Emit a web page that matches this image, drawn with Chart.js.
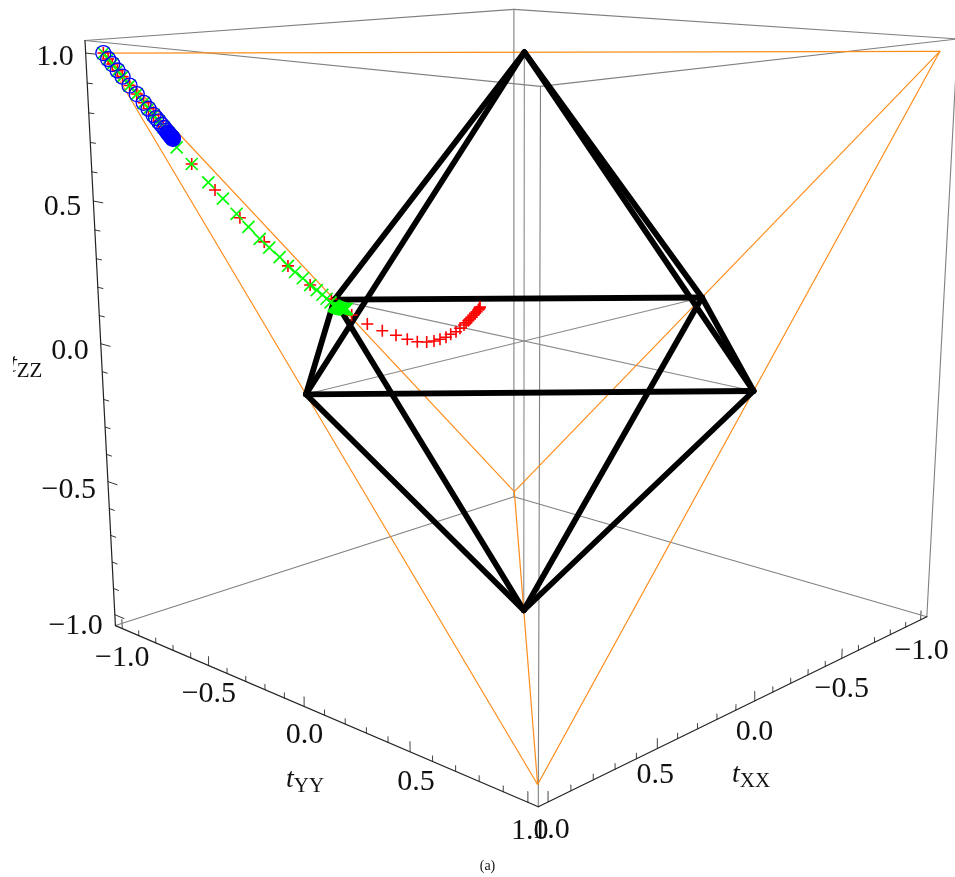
<!DOCTYPE html>
<html>
<head>
<meta charset="utf-8">
<title>Correlation tetrahedron</title>
<script src="https://cdn.jsdelivr.net/npm/chart.js@4"></script>
<style>
  html, body { margin: 0; padding: 0; background: #fff; }
  canvas { display: block; }
</style>
</head>
<body>
<canvas id="chart" width="955" height="877"></canvas>
<script>
const trajectoryYY = -1;
const blueXX = [1, 0.982, 0.966, 0.946, 0.927, 0.9, 0.872, 0.845, 0.826, 0.806, 0.796, 0.785, 0.774, 0.763, 0.755, 0.75, 0.747, 0.744, 0.742, 0.739, 0.737, 0.735, 0.733, 0.732, 0.73, 0.729, 0.728];
const blueZZ = [1, 0.979, 0.961, 0.938, 0.916, 0.884, 0.853, 0.821, 0.799, 0.776, 0.7645, 0.752, 0.739, 0.727, 0.717, 0.711, 0.708, 0.705, 0.702, 0.699, 0.696, 0.694, 0.692, 0.69, 0.689, 0.688, 0.686];
const greenXX = [1, 0.982, 0.966, 0.946, 0.927, 0.9, 0.872, 0.845, 0.826, 0.806, 0.786, 0.767, 0.748, 0.728, 0.7134, 0.6513, 0.5813, 0.5188, 0.4589, 0.4064, 0.3556, 0.312, 0.264, 0.2254, 0.1917, 0.1547, 0.1196, 0.0874, 0.06, 0.0393, 0.02, 0.0042, -0.0016, -0.0073, -0.0131, -0.0184, -0.0232, -0.028, -0.0328, -0.0376, -0.0424, -0.0473, -0.0511, -0.0545, -0.0569, -0.0593, -0.0617];
const greenZZ = [1, 0.979, 0.961, 0.938, 0.916, 0.884, 0.853, 0.821, 0.799, 0.776, 0.753, 0.731, 0.709, 0.686, 0.6551, 0.5899, 0.5168, 0.451, 0.3889, 0.334, 0.2832, 0.2443, 0.2023, 0.1636, 0.1356, 0.1063, 0.075, 0.0503, 0.0284, 0.0097, -0.0075, -0.0229, -0.0266, -0.0294, -0.0322, -0.0346, -0.0369, -0.0388, -0.0406, -0.042, -0.0434, -0.0444, -0.0453, -0.0458, -0.0462, -0.0462, -0.0462];
const redXX = [1, 0.982, 0.966, 0.946, 0.927, 0.9, 0.872, 0.845, 0.826, 0.806, 0.786, 0.767, 0.748, 0.728, 0.6513, 0.5528, 0.4444, 0.335, 0.2254, 0.1196, 0.0152, -0.0867, -0.167, -0.2457, -0.3189, -0.38, -0.4349, -0.4871, -0.5282, -0.5621, -0.5963, -0.6233, -0.6538, -0.677, -0.7003, -0.7129, -0.7255, -0.7355, -0.7454, -0.755, -0.7648, -0.7745, -0.7843, -0.789, -0.7925, -0.7944];
const redZZ = [1, 0.979, 0.961, 0.938, 0.916, 0.884, 0.853, 0.821, 0.799, 0.776, 0.753, 0.731, 0.709, 0.686, 0.5899, 0.4863, 0.3723, 0.2691, 0.1636, 0.075, 0.005, -0.0741, -0.1231, -0.1631, -0.1941, -0.2208, -0.2401, -0.2503, -0.2532, -0.252, -0.2495, -0.2415, -0.2358, -0.2254, -0.2154, -0.2085, -0.2015, -0.196, -0.1905, -0.1835, -0.1768, -0.1715, -0.166, -0.162, -0.158, -0.1549];

// separable octahedron and physical tetrahedron, [tXX, tYY, tZZ]
const octaVertices = [[1, 0, 0], [0, 1, 0], [-1, 0, 0], [0, -1, 0], [0, 0, 1], [0, 0, -1]];
const octaEdges = [[0, 1], [1, 2], [2, 3], [3, 0], [0, 4], [1, 4], [2, 4], [3, 4], [0, 5], [1, 5], [2, 5], [3, 5]];
const octaAxes = [[0, 2], [1, 3], [4, 5]];
const tetraVertices = [[1, -1, 1], [-1, 1, 1], [-1, -1, -1], [1, 1, -1]];
const tetraEdges = [[0, 1], [0, 2], [0, 3], [1, 2], [1, 3], [2, 3]];

// axes
const boxEdge = 1.0417;
const tickValues = [-1, -0.9, -0.8, -0.7, -0.6, -0.5, -0.4, -0.3, -0.2, -0.1, 0, 0.1, 0.2, 0.3, 0.4, 0.5, 0.6, 0.7, 0.8, 0.9, 1];
const labelValues = [-1, -0.5, 0, 0.5, 1];
const labelTexts = ["\u22121.0", "\u22120.5", "0.0", "0.5", "1.0"];

// view of the box, fitted to the box corners in the picture
const viewX = [-249.12, 157.87, -18.01, 524.05];
const viewY = [13.32, 12.88, -290.6, 341];
const viewW = [-0.10142, -0.09499, -0.03494, 1];

function project(p) {
  const w = viewW[0] * p[0] + viewW[1] * p[1] + viewW[2] * p[2] + viewW[3];
  return {
    x: (viewX[0] * p[0] + viewX[1] * p[1] + viewX[2] * p[2] + viewX[3]) / w,
    y: (viewY[0] * p[0] + viewY[1] * p[1] + viewY[2] * p[2] + viewY[3]) / w,
  };
}

function trajectory(xx, zz) {
  return xx.map((v, i) => project([v, trajectoryYY, zz[i]]));
}

function line(a, b, color, width) {
  return {
    data: [project(a), project(b)],
    showLine: true,
    borderColor: color,
    borderWidth: width,
    borderCapStyle: "round",
    pointRadius: 0,
  };
}

function markers(data, style, radius, color, width) {
  return {
    data: data,
    pointStyle: style,
    pointRadius: radius,
    pointBorderColor: color,
    pointBorderWidth: width,
    pointBackgroundColor: "rgba(0,0,0,0)",
  };
}

const B = boxEdge;
const datasets = [];

// first dataset ends up on top
const blue = markers(trajectory(blueXX, blueZZ), "circle", 7.5, "#0000ff", 1.3);
// the last circle is solid in the picture, the points pile up there
blue.pointBackgroundColor = blueXX.map((v, i) => (i === blueXX.length - 1 ? "#0000ff" : "rgba(0,0,0,0)"));
datasets.push(blue);
datasets.push(markers(trajectory(greenXX, greenZZ), "crossRot", 8.5, "#00ff00", 1.7));
datasets.push(markers(trajectory(redXX, redZZ), "cross", 6, "#ff0000", 1.6));

octaEdges.forEach((e) => {
  datasets.push(line(octaVertices[e[0]], octaVertices[e[1]], "#000", 5.8));
});
tetraEdges.forEach((e) => {
  datasets.push(line(tetraVertices[e[0]], tetraVertices[e[1]], "#ff8c1a", 1.2));
});
octaAxes.forEach((e) => {
  datasets.push(line(octaVertices[e[0]], octaVertices[e[1]], "#8a8a8a", 1.1));
});

// box: three drawn axes in black, the rest grey
datasets.push(line([B, -B, -B], [B, -B, B], "#222", 1.2));
datasets.push(line([B, -B, -B], [B, B, -B], "#222", 1.2));
datasets.push(line([B, B, -B], [-B, B, -B], "#222", 1.2));
[
  [[B, -B, B], [-B, -B, B]],
  [[-B, -B, B], [-B, B, B]],
  [[-B, B, B], [B, B, B]],
  [[B, B, B], [B, -B, B]],
  [[-B, -B, -B], [B, -B, -B]],
  [[-B, -B, -B], [-B, B, -B]],
  [[-B, -B, -B], [-B, -B, B]],
  [[B, B, -B], [B, B, B]],
  [[-B, B, -B], [-B, B, B]],
].forEach((e) => datasets.push(line(e[0], e[1], "#808080", 1.1)));

tickValues.forEach((v) => {
  const major = labelValues.includes(v);
  const zLen = major ? 0.055 : 0.03;
  const len = major ? 0.034 : 0.019;
  datasets.push(line([B, -B, v], [B, -B + zLen, v], "#333", 1));
  datasets.push(line([B, v, -B], [B, v, -B + len], "#444", 1));
  datasets.push(line([v, B, -B], [v, B, -B + len], "#444", 1));
});

// text placement relative to the tick it belongs to
const zLabelDx = -12;
const zLabelDy = [11, 9, 7.5, 6.5, 4];
const yLabelDx = [0, 0, 0, 6, 2];
const yLabelDy = [29.4, 28.8, 29, 30.5, 28.5];
const xLabelDx = [1, 0, 0, -2, 3];
const xLabelDy = [31.5, 30.5, 31, 27, 28.5];

const tickFont = "30px 'Liberation Serif'";

const textPlugin = {
  id: "boxText",
  afterDatasetsDraw(chart) {
    const ctx = chart.ctx;
    const sx = chart.scales.x;
    const sy = chart.scales.y;
    const px = (p) => ({ x: sx.getPixelForValue(p.x), y: sy.getPixelForValue(p.y) });

    ctx.save();
    ctx.fillStyle = "#111";
    ctx.font = tickFont;
    ctx.textBaseline = "middle";

    labelValues.forEach((v, i) => {
      const zTick = px(project([B, -B, v]));
      ctx.textAlign = "right";
      ctx.fillText(labelTexts[i], zTick.x + zLabelDx, zTick.y + zLabelDy[i]);
      ctx.textAlign = "center";
      const yTick = px(project([B, v, -B]));
      ctx.fillText(labelTexts[i], yTick.x + yLabelDx[i], yTick.y + yLabelDy[i]);
      const xTick = px(project([v, B, -B]));
      ctx.fillText(labelTexts[i], xTick.x + xLabelDx[i], xTick.y + xLabelDy[i]);
    });

    ctx.textAlign = "left";
    ctx.textBaseline = "alphabetic";
    // the t of tZZ is cut off at the left in the picture
    ctx.save();
    ctx.beginPath();
    ctx.rect(13, 340, 60, 50);
    ctx.clip();
    drawTitle(ctx, "ZZ", 9, 372, 377);
    ctx.restore();
    drawTitle(ctx, "YY", 286, 787, 792);
    drawTitle(ctx, "XX", 732, 782, 787);

    ctx.font = "14px 'Liberation Serif'";
    ctx.textAlign = "center";
    ctx.textBaseline = "middle";
    ctx.fillText("(a)", 487.5, 866);
    ctx.restore();
  },
};

function drawTitle(ctx, sub, x, baseT, baseSub) {
  ctx.font = "italic 28px 'Liberation Serif'";
  ctx.fillText("t", x, baseT);
  const w = ctx.measureText("t").width;
  ctx.font = "21px 'Liberation Serif'";
  ctx.fillText(sub, x + w, baseSub);
}

new Chart(document.getElementById("chart"), {
  type: "scatter",
  data: { datasets: datasets },
  options: {
    responsive: false,
    animation: false,
    layout: { padding: 0, autoPadding: false },
    plugins: { legend: { display: false }, tooltip: { enabled: false } },
    scales: {
      x: { type: "linear", min: 0, max: 955, display: false },
      y: { type: "linear", min: 0, max: 877, reverse: true, display: false },
    },
  },
  plugins: [textPlugin],
});
</script>
</body>
</html>
